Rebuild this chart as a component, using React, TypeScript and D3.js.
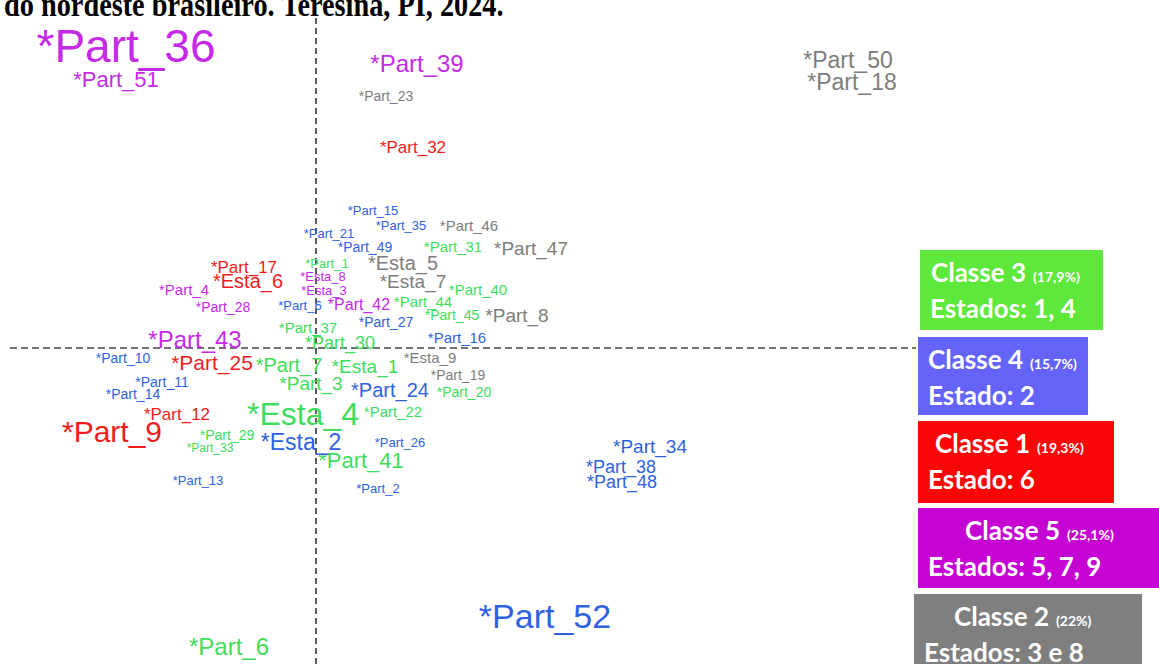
import React from "react";
import * as d3 from "d3";

const W = 1159;
const H = 664;

// Word labels (participants / states) in the factorial plane
const labels = [
  "*Part_36", "*Part_51", "*Part_39", "*Part_23", "*Part_32", "*Part_50", "*Part_18",
  "*Part_15", "*Part_35", "*Part_46", "*Part_21", "*Part_49", "*Part_31", "*Part_47",
  "*Esta_5", "*Part_1", "*Esta_8", "*Esta_7", "*Esta_3", "*Part_40", "*Part_42",
  "*Part_44", "*Part_45", "*Part_8", "*Part_27", "*Part_6", "*Part_37", "*Part_30",
  "*Part_16", "*Esta_9", "*Part_19", "*Esta_1", "*Part_24", "*Part_20", "*Part_22",
  "*Part_26", "*Part_41", "*Part_2", "*Part_43", "*Part_10", "*Part_25", "*Part_7",
  "*Part_11", "*Part_14", "*Part_3", "*Part_12", "*Part_9", "*Esta_4", "*Part_29",
  "*Esta_2", "*Part_33", "*Part_13", "*Part_4", "*Part_17", "*Esta_6", "*Part_28",
  "*Part_34", "*Part_38", "*Part_48", "*Part_52", "*Part_6",
];
const factor1 = [
  -19.0, -20.0, 10.1, 7.0, 9.7, 53.2, 53.6,
  5.7, 8.5, 15.3, 1.3, 4.9, 13.7, 21.5,
  8.7, 1.1, 0.7, 9.7, 0.8, 16.2, 4.3,
  10.7, 13.6, 20.1, 7.0, -1.6, -0.8, 2.4,
  14.1, 11.4, 14.2, 4.9, 7.4, 14.8, 7.7,
  8.4, 4.5, 6.2, -12.1, -19.3, -10.4, -2.7,
  -15.4, -18.3, -0.5, -13.9, -20.4, -1.3, -8.9,
  -1.5, -10.6, -11.8, -13.2, -7.2, -6.8, -9.3,
  33.4, 30.5, 30.6, 22.9, -8.7,
];
const factor2 = [
  28.6, 26.1, 27.6, 24.7, 19.5, 28.0, 25.8,
  13.3, 11.8, 11.7, 11.0, 9.6, 9.6, 9.3,
  7.8, 8.0, 6.7, 6.0, 5.3, 5.3, 3.8,
  4.1, 2.8, 2.6, 2.1, 3.8, 1.5, -0.1,
  0.5, -1.5, -3.2, -2.5, -4.9, -4.9, -6.9,
  -9.9, -12.0, -14.5, 0.0, -1.5, -2.2, -2.4,
  -3.9, -5.1, -4.2, -7.2, -9.4, -7.7, -9.2,
  -10.2, -10.4, -13.7, 5.3, 7.5, 6.0, 3.6,
  -10.5, -12.5, -14.0, -28.0, -30.7,
];
const chi2 = [
  46, 22, 24, 14, 17, 23, 23,
  13, 13, 15, 13, 14, 15, 19,
  20, 13, 13, 19, 13, 15, 16,
  15, 14, 19, 14, 13, 15, 18,
  15, 15, 14, 19, 20, 14, 15,
  13, 22, 13, 24, 14, 21, 20,
  14, 14, 19, 17, 30, 32, 14,
  23, 12, 13, 15, 17, 20, 14,
  19, 18, 18, 34, 24,
];
const classOf = [
  5, 5, 5, 2, 1, 2, 2,
  4, 4, 2, 4, 4, 3, 2,
  2, 3, 5, 2, 5, 3, 5,
  3, 3, 2, 4, 4, 3, 3,
  4, 2, 2, 3, 4, 3, 3,
  4, 3, 4, 5, 4, 1, 3,
  4, 4, 3, 1, 1, 3, 3,
  4, 3, 4, 5, 1, 1, 5,
  4, 4, 4, 4, 3,
];

// Legend (class boxes), in display order
const legendClass = ["Classe 3", "Classe 4", "Classe 1", "Classe 5", "Classe 2"];
const legendPct = ["(17,9%)", "(15,7%)", "(19,3%)", "(25,1%)", "(22%)"];
const legendStates = ["Estados: 1, 4", "Estado: 2", "Estado: 6", "Estados: 5, 7, 9", "Estados: 3 e 8"];
const legendId = [3, 4, 1, 5, 2];

const textColor: Record<number, string> = {
  1: "#f01c1c",
  2: "#7d7d7d",
  3: "#3fdd5c",
  4: "#2f62e0",
  5: "#c52ae6",
};
const boxColor: Record<number, string> = {
  1: "#fb0606",
  2: "#7f7f7f",
  3: "#5fe83c",
  4: "#6464fa",
  5: "#c503d3",
};
// box geometry per legend entry
const boxX = [920, 918, 918, 918, 914];
const boxY = [250, 337, 421, 508, 594];
const boxW = [183, 170, 196, 241, 228];
const boxH = [80, 78, 82, 80, 80];
const titleIndent = [11, 10, 17, 47, 40];

export default function App() {
  const x = d3.scaleLinear().domain([-31.6, 84.3]).range([0, W]);
  const y = d3.scaleLinear().domain([34.8, -31.6]).range([0, H]);
  const fs = d3.scaleLinear().domain([10, 46]).range([10, 46]);

  return (
    <div style={{ position: "absolute", left: 0, top: 0 }}>
      <svg width={W} height={H} style={{ display: "block", background: "#fff" }}>
        <text
          transform="translate(4,16) scale(1,1.2)"
          fontFamily="'Liberation Serif', 'Times New Roman', serif"
          fontWeight="bold"
          fontSize={28.3}
          fill="#000"
        >
          do nordeste brasileiro. Teresina, PI, 2024.
        </text>

        {/* axes */}
        <line
          x1={x(0)}
          x2={x(0)}
          y1={18}
          y2={H}
          stroke="#333"
          strokeWidth={1.6}
          strokeDasharray="6 4"
        />
        <line
          x1={10}
          x2={916}
          y1={y(0)}
          y2={y(0)}
          stroke="#444"
          strokeWidth={1.6}
          strokeDasharray="7 4"
        />

        {labels.map((l, i) => (
          <text
            key={i}
            x={x(factor1[i])}
            y={y(factor2[i])}
            textAnchor="middle"
            fontFamily="'Liberation Sans', Arial, sans-serif"
            fontSize={fs(chi2[i])}
            fill={textColor[classOf[i]]}
          >
            {l}
          </text>
        ))}

        {legendClass.map((c, i) => (
          <g key={c}>
            <rect
              x={boxX[i]}
              y={boxY[i]}
              width={boxW[i]}
              height={boxH[i]}
              fill={boxColor[legendId[i]]}
            />
            <text
              x={boxX[i] + titleIndent[i]}
              y={boxY[i] + 32}
              fontFamily="Lato, 'Open Sans', sans-serif"
              fontWeight="bold"
              fill="#fff"
              fontSize={26}
            >
              {c}
              <tspan fontSize={14} dx={7}>
                {legendPct[i]}
              </tspan>
            </text>
            <text
              x={boxX[i] + 10}
              y={boxY[i] + 68}
              fontFamily="Lato, 'Open Sans', sans-serif"
              fontWeight="bold"
              fill="#fff"
              fontSize={26}
            >
              {legendStates[i]}
            </text>
          </g>
        ))}
      </svg>
    </div>
  );
}
